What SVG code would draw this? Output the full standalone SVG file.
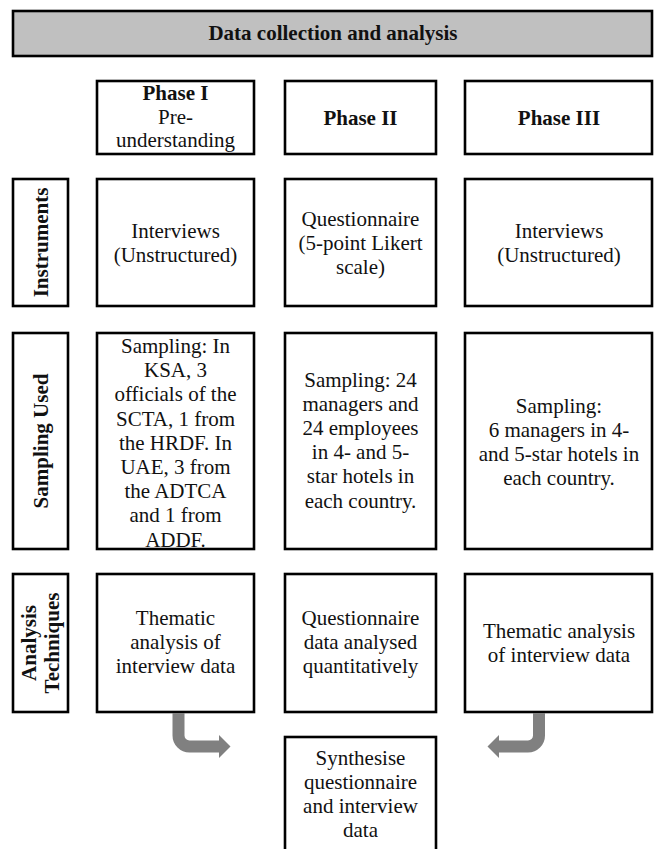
<svg xmlns="http://www.w3.org/2000/svg" width="656" height="849" viewBox="0 0 656 849">
<style>
  .box { fill: #ffffff; stroke: #000000; stroke-width: 2.6; }
  .title { fill: #c0c0c0; stroke: #000000; stroke-width: 2.6; }
  text { font-family: "Liberation Serif", "Times New Roman", serif; font-size: 21px; fill: #111111; text-anchor: middle; }
  .b { font-weight: bold; }
  .conn { fill: none; stroke: #808080; stroke-width: 12; }
  .head { fill: #808080; stroke: none; }
</style>
<rect width="656" height="849" fill="#ffffff"/>
<g id="title">
  <rect class="title" x="13" y="11" width="639" height="45"/>
  <text class="b" x="333" y="40">Data collection and analysis</text>
</g>
<g id="phase1">
  <rect class="box" x="97" y="81" width="157" height="73"/>
  <text x="175.5" y="100"><tspan class="b">Phase I</tspan><tspan x="175.5" dy="23.5">Pre-</tspan><tspan x="175.5" dy="23.5">understanding</tspan></text>
</g>
<g id="phase2">
  <rect class="box" x="285" y="81" width="151" height="73"/>
  <text class="b" x="360.5" y="125">Phase II</text>
</g>
<g id="phase3">
  <rect class="box" x="465" y="81" width="187" height="73"/>
  <text class="b" x="559" y="125">Phase III</text>
</g>
<g id="label-instruments">
  <rect class="box" x="13" y="179" width="55" height="127"/>
  <text class="b" transform="translate(47.5,242.5) rotate(-90)">Instruments</text>
</g>
<g id="instr1">
  <rect class="box" x="97" y="179" width="157" height="127"/>
  <text x="175.5" y="237.5">Interviews<tspan x="175.5" dy="24">(Unstructured)</tspan></text>
</g>
<g id="instr2">
  <rect class="box" x="285" y="179" width="151" height="127"/>
  <text x="360.5" y="225.5">Questionnaire<tspan x="360.5" dy="24">(5-point Likert</tspan><tspan x="360.5" dy="24">scale)</tspan></text>
</g>
<g id="instr3">
  <rect class="box" x="465" y="179" width="187" height="127"/>
  <text x="559" y="237.5">Interviews<tspan x="559" dy="24">(Unstructured)</tspan></text>
</g>
<g id="label-sampling">
  <rect class="box" x="13" y="333" width="55" height="216"/>
  <text class="b" transform="translate(47.5,441) rotate(-90)">Sampling Used</text>
</g>
<g id="samp1">
  <rect class="box" x="97" y="333" width="157" height="216"/>
  <text x="175.5" y="353">Sampling: In<tspan x="175.5" dy="24.2">KSA, 3</tspan><tspan x="175.5" dy="24.2">officials of the</tspan><tspan x="175.5" dy="24.2">SCTA, 1 from</tspan><tspan x="175.5" dy="24.2">the HRDF. In</tspan><tspan x="175.5" dy="24.2">UAE, 3 from</tspan><tspan x="175.5" dy="24.2">the ADTCA</tspan><tspan x="175.5" dy="24.2">and 1 from</tspan><tspan x="175.5" dy="24.2">ADDF.</tspan></text>
</g>
<g id="samp2">
  <rect class="box" x="285" y="333" width="151" height="216"/>
  <text x="360.5" y="386.5">Sampling: 24<tspan x="360.5" dy="24.2">managers and</tspan><tspan x="360.5" dy="24.2">24 employees</tspan><tspan x="360.5" dy="24.2">in 4- and 5-</tspan><tspan x="360.5" dy="24.2">star hotels in</tspan><tspan x="360.5" dy="24.2">each country.</tspan></text>
</g>
<g id="samp3">
  <rect class="box" x="465" y="333" width="187" height="216"/>
  <text x="559" y="413">Sampling:<tspan x="559" dy="24">6 managers in 4-</tspan><tspan x="559" dy="24">and 5-star hotels in</tspan><tspan x="559" dy="24">each country.</tspan></text>
</g>
<g id="label-analysis">
  <rect class="box" x="13" y="574" width="55" height="138"/>
  <text class="b" transform="translate(35.5,643) rotate(-90)">Analysis<tspan x="0" dy="23.5">Techniques</tspan></text>
</g>
<g id="anal1">
  <rect class="box" x="97" y="574" width="157" height="138"/>
  <text x="175.5" y="625">Thematic<tspan x="175.5" dy="24">analysis of</tspan><tspan x="175.5" dy="24">interview data</tspan></text>
</g>
<g id="anal2">
  <rect class="box" x="285" y="574" width="151" height="138"/>
  <text x="360.5" y="625">Questionnaire<tspan x="360.5" dy="24">data analysed</tspan><tspan x="360.5" dy="24">quantitatively</tspan></text>
</g>
<g id="anal3">
  <rect class="box" x="465" y="574" width="187" height="138"/>
  <text x="559" y="638">Thematic analysis<tspan x="559" dy="24">of interview data</tspan></text>
</g>
<g id="synth">
  <rect class="box" x="285" y="737" width="151" height="120"/>
  <text x="360.5" y="765">Synthesise<tspan x="360.5" dy="24">questionnaire</tspan><tspan x="360.5" dy="24">and interview</tspan><tspan x="360.5" dy="24">data</tspan></text>
</g>
<g id="connectors">
  <path class="conn" d="M178.5,713 V735.5 A11,11 0 0 0 189.5,746.5 H220"/>
  <polygon class="head" points="219,735 230.5,746.5 219,758"/>
  <path class="conn" d="M539,713 V735.5 A11,11 0 0 1 528,746.5 H498"/>
  <polygon class="head" points="499,735 487.5,746.5 499,758"/>
</g>
</svg>
